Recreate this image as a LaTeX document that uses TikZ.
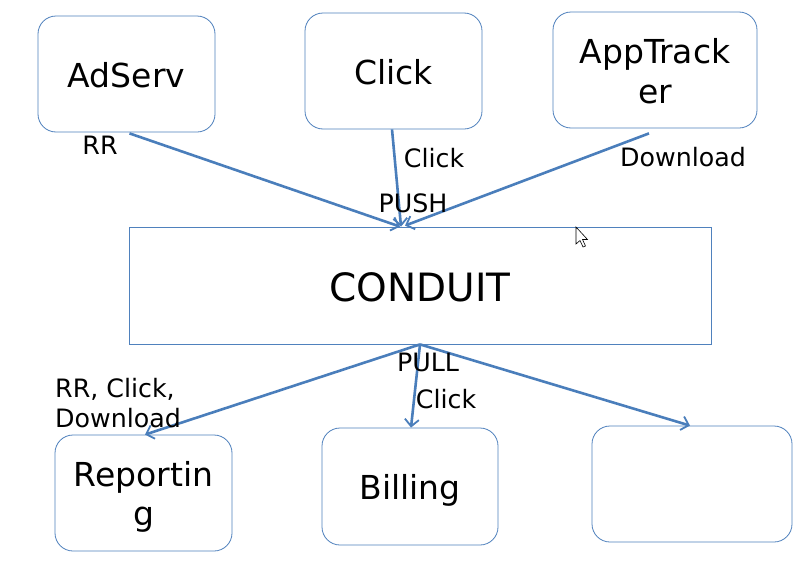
\documentclass[tikz,border=0pt]{standalone}
\usepackage{fontspec}
\setmainfont{DejaVu Sans}
\usetikzlibrary{arrows.meta}
\definecolor{boxblue}{HTML}{4F81BD}
\definecolor{arrblue}{HTML}{4A7EBB}
\newcommand{\dn}[2]{\raisebox{-#1}[\height][\depth]{#2}}
\begin{document}
\begin{tikzpicture}[x=1pt,y=-1pt,
  rbox/.style={draw=boxblue,line width=0.8pt,rounded corners=18pt,inner sep=0pt,align=center,font=\fontsize{33}{40}\selectfont},
  conn/.style={draw=arrblue,line width=2.6pt,-{Straight Barb[length=7pt,width=14pt,line width=1.8pt]}},
  lbl/.style={font=\fontsize{25.3}{30}\selectfont,inner sep=0pt}]
\useasboundingbox (0,0) rectangle (811,565);
\fill[white] (0,0) rectangle (811,565);
% top boxes
\node[rbox,minimum width=177pt,minimum height=116pt] (adserv) at (126.5,74) {\dn{1pt}{AdServ}};
\node[rbox,minimum width=177pt,minimum height=116pt] (click) at (393.5,71) {\dn{1pt}{Click}};
\node[rbox,minimum width=204pt,minimum height=116pt] (apptr) at (655,70) {\dn{1.5pt}{AppTrack}\\\dn{1.5pt}{er}};
% conduit
\node[draw=boxblue,line width=0.8pt,minimum width=582pt,minimum height=117pt,inner sep=0pt,font=\fontsize{39}{46}\selectfont] (conduit) at (420,285.5) {\dn{2pt}{CONDUIT}};
% bottom boxes
\node[rbox,minimum width=177pt,minimum height=116pt] (report) at (143.5,493) {\dn{4pt}{Reportin}\\\dn{3pt}{g}};
\node[rbox,minimum width=176pt,minimum height=117pt] (billing) at (410,486.5) {\dn{4pt}{Billing}};
\node[rbox,minimum width=200pt,minimum height=116pt] (empty) at (692,484) {};
% connectors
\draw[conn] ([xshift=3pt,yshift=-1pt]adserv.south) -- ([xshift=-20pt]conduit.north);
\draw[conn] ([xshift=-1.5pt]click.south) -- ([xshift=-19pt]conduit.north);
\draw[conn] ([xshift=-6pt,yshift=-5pt]apptr.south) -- ([xshift=-15pt,yshift=1pt]conduit.north);
\draw[conn] (conduit.south) -- ([xshift=1.5pt]report.north);
\draw[conn] (conduit.south) -- ([xshift=1pt]billing.north);
\draw[conn] (conduit.south) -- ([xshift=-2pt]empty.north);
% labels
\node[lbl] (l1) at (100,145) {RR};
\node[lbl] (l2) at (434,158) {Click};
\node[lbl] (l3) at (683,157) {Download};
\node[lbl] (l4) at (413,203) {PUSH};
\node[lbl] (l5) at (428,362) {PULL};
\node[lbl] (l6) at (446,399) {Click};
\node[lbl,anchor=west,align=left] (l7) at (55,403) {RR, Click,\\Download};
% cursor
\draw[black,fill=white,line width=0.6pt] (576,227) -- (576,244) -- (580,240.5) -- (583,247) -- (585.5,246) -- (582.5,239.5) -- (587.5,239.5) -- cycle;
\end{tikzpicture}
\end{document}
